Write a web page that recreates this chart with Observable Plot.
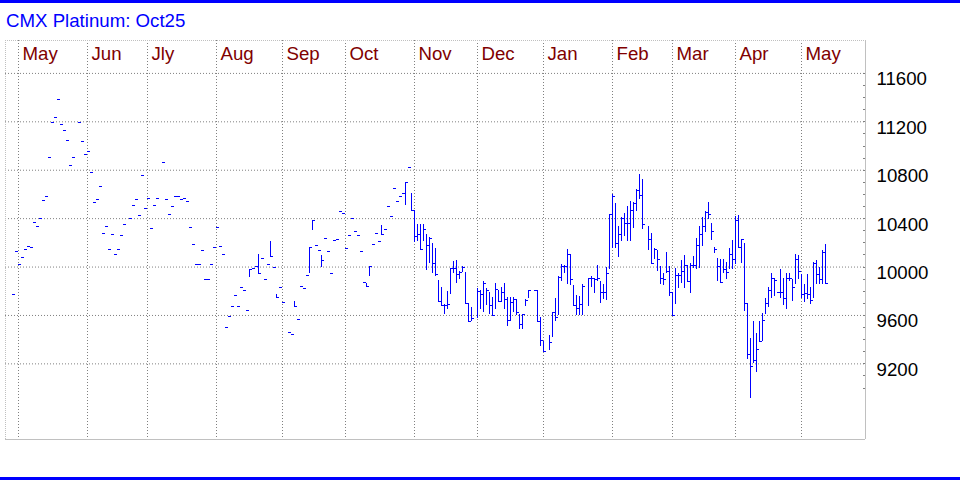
<!DOCTYPE html>
<html><head><meta charset="utf-8">
<script src="https://cdn.jsdelivr.net/npm/d3@7"></script>
<script src="https://cdn.jsdelivr.net/npm/@observablehq/plot@0.6"></script>
<style>
body{margin:0;background:#fff;}
#wrap{position:relative;width:960px;height:480px;overflow:hidden;background:#fff;font-family:"Liberation Sans",Arial,sans-serif;}
.bar{position:absolute;left:0;width:960px;height:3px;background:#0000ff;}
#title{position:absolute;left:6px;top:11px;font-size:18.67px;line-height:19px;color:#0000ff;white-space:nowrap;}
#chart{position:absolute;left:0;top:33px;}
</style></head><body>
<div id="wrap">
  <div class="bar" style="top:0"></div>
  <div id="title">CMX Platinum: Oct25</div>
  <div id="chart"></div>
  <div class="bar" style="top:477px"></div>
</div>
<script>
const N = null;
// month labels and the trading-day index of each month's first session
const months = ["May","Jun","Jly","Aug","Sep","Oct","Nov","Dec","Jan","Feb","Mar","Apr","May"];
const monthStart = [2,25,45,68,90,111,134,155,177,200,220,241,263];
// price axis labels
const yTicks = [9200,9600,10000,10400,10800,11200,11600];
const yMinor = [9000,9100,9200,9300,9400,9500,9600,9700,9800,9900,10000,10100,10200,10300,10400,10500,10600,10700,10800,10900,11000,11100,11200,11300,11400,11500,11600];

// daily closes (null = no trade), index = trading day
const close = [
 9777,10132,10025,10082,10148,10173,10165,10371,10338,10404,
 10553,10586,10907,11196,11237,11385,11179,11130,11047,10841,
 10907,N,11196,11039,10932,10957,10783,10536,10561,10668,
 10280,10338,10148,10272,10107,10148,10264,10355,N,10404,
 10511,10561,10429,10759,10487,10569,10322,10511,10569,N,
 10866,10561,10437,10503,10586,10586,10561,10569,10544,10330,
 10190,10025,10025,10140,9893,9893,10025,10165,10330,10173,
 10107,9497,9588,9678,9769,9670,9835,9810,9637,9978,
 9984,10008,9945,10074,9901,10025,10087,10000,9750,9835,
 9703,N,9456,9442,9673,9563,9843,9821,9934,10159,
 10382,10181,10140,10058,10239,10126,9950,10217,10231,10459,
 10440,10151,10258,10404,10297,10264,10126,9876,9840,10008,
 10190,10280,10214,10272,10313,10497,10421,10651,10544,10586,
 10605,10701,10825,10464,10252,10272,10148,10313,10176,10234,
 10027,9937,9717,9684,9684,9689,9992,9992,9937,9958,
 10000,9698,9546,9574,N,9799,9771,9862,9804,9681,
 9601,9812,9714,9793,9730,9560,9708,9730,9626,9529,
 9609,9722,9808,N,N,9546,9392,9304,N,9376,
 9623,9587,9917,10005,10005,10101,9895,9684,9661,9689,
 9840,N,9904,9909,9895,9904,9793,9793,9950,10432,
 10583,10198,10266,10404,10363,10357,10464,10522,10632,10588,
 10354,N,10225,10033,10143,10060,9909,9895,9964,9791,
 9599,9928,9928,9964,10011,9881,10011,10011,10176,10266,
 10335,10453,10431,10294,10148,10005,9876,9983,9956,10107,
 10066,10382,10165,10231,9695,9277,9175,9227,9318,9387,
 9557,9695,9807,9909,9887,N,9793,9744,9909,9909,
 9835,10060,9964,9777,9785,9772,9722,10033,9937,9895,
 10121,9860
];
// daily highs (null where the day was a single print)
const high = [
 N,N,N,N,N,N,N,N,N,N, N,N,N,N,N,N,N,N,N,N,
 N,N,N,N,N,N,N,N,N,N, N,N,N,N,N,N,N,N,N,N,
 N,N,N,N,N,N,N,N,N,N, N,N,N,N,N,N,N,N,N,N,
 N,N,N,N,N,N,N,N,N,N, N,N,N,N,N,N,N,N,N,9978,
 N,N,10101,N,N,N,10209,N,9770,N,
 N,N,N,N,9716,N,N,N,N,10159,
 10382,N,N,10093,N,N,N,N,N,N,
 N,N,N,N,N,N,N,N,9860,10008,
 N,N,N,10341,N,N,N,N,N,N,
 N,10701,N,10610,10464,10349,10355,10355,10267,10245,
 10198,10157,9890,9830,9689,9794,9992,10049,10052,9964,
 10005,9958,9698,9665,N,9826,9807,9879,9826,9790,
 9752,9867,9807,9829,9867,9752,9752,9752,9730,9607,
 9609,9730,9808,N,N,9808,9580,9387,N,9436,
 9623,9738,9923,10019,10011,10143,10107,9846,9763,9758,
 9854,N,9909,9923,9909,10011,9879,9854,10000,10437,
 10602,10528,10335,10409,10445,10500,10538,10533,10637,10761,
 10720,N,10335,10275,10157,10137,10005,9950,10121,10005,
 9791,9986,9950,10052,10093,10011,10033,10088,10239,10335,
 10412,10459,10536,10363,10160,10074,10066,10066,10038,10157,
 10217,10418,10423,10231,10192,9695,9406,9552,9455,9546,
 9620,9736,9827,9945,9909,N,9978,9909,9945,9945,
 9895,10107,10093,9937,9854,9937,9827,10038,10052,9997,
 10134,10184
];
const low = [
 N,N,N,N,N,N,N,N,N,N, N,N,N,N,N,N,N,N,N,N,
 N,N,N,N,N,N,N,N,N,N, N,N,N,N,N,N,N,N,N,N,
 N,N,N,N,N,N,N,N,N,N, N,N,N,N,N,N,N,N,N,N,
 N,N,N,N,N,N,N,N,N,N, N,N,N,N,N,N,N,N,N,9914,
 N,N,9945,N,N,N,10087,N,9750,N,
 N,N,N,N,9673,N,N,N,N,9945,
 10302,N,N,10000,N,N,N,N,N,N,
 N,N,N,N,N,N,N,N,9840,9922,
 N,N,N,10272,N,N,N,N,N,N,
 N,10508,N,10464,10203,10212,10148,10212,9975,10027,
 9950,9923,9703,9676,9612,9648,9777,9950,9862,9901,
 9958,9698,9546,9546,N,9573,9648,9626,9681,9606,
 9599,9653,9708,9708,9648,9510,9552,9626,9599,9488,
 9488,9675,9744,N,N,9546,9340,9291,N,9312,
 9414,9546,9599,9881,9950,9854,9849,9681,9598,9601,
 9601,N,9670,9827,9785,9881,9697,9730,9725,9978,
 10157,10157,10080,10211,10253,10211,10211,10321,10459,10561,
 10313,N,10137,10027,10060,9964,9854,9849,9950,9758,
 9593,9689,9826,9868,9826,9881,9785,9992,9983,9992,
 10170,10286,10390,10220,10110,9881,9876,9950,9901,9978,
 9978,10025,10157,10027,9634,9236,8911,9202,9125,9387,
 9387,9607,9662,9736,9758,N,9740,9681,9648,9881,
 9717,9854,9901,9736,9703,9730,9689,9744,9854,9854,
 9854,9860
];
// days where an opening tick is visible
const openDays = [134,175,197,256];
const openPrices = [10464,9808,9793,9793];

const days = close.map((c, i) => ({i, c, h: high[i], l: low[i]})).filter(d => d.c != null);
const ranged = days.filter(d => d.h != null);
const opens = openDays.map((i, k) => ({i, o: openPrices[k]}));
const monthRows = months.map((m, k) => ({m, i: monthStart[k]}));

const xDomain = [-7/3, 853/3];
const yDomain = [8575, 11872];
const grid = "#808080";
const edge = "#c0c0c0";
const blue = "#0000ff";
const fs = 18.67;

const chart = Plot.plot({
  width: 960, height: 415,
  marginTop: 7, marginBottom: 9, marginLeft: 5, marginRight: 95,
  x: {domain: xDomain, axis: null},
  y: {domain: yDomain, axis: null},
  style: {fontFamily: "'Liberation Sans', Arial, sans-serif", fontSize: fs + "px", background: "#fff", overflow: "visible"},
  marks: [
    Plot.ruleY(yTicks, {stroke: grid, strokeDasharray: "1,2"}),
    Plot.ruleX(monthRows, {x: "i", stroke: grid, strokeDasharray: "1,2"}),
    Plot.ruleY([yDomain[1]], {stroke: edge, strokeDasharray: "1,1"}),
    Plot.ruleX([xDomain[0]], {stroke: edge, strokeDasharray: "1,1"}),
    Plot.ruleY([yDomain[0]], {stroke: edge}),
    Plot.ruleX([xDomain[1]], {stroke: edge}),
    Plot.ruleY(yMinor, {x1: xDomain[1] - 0.8, x2: xDomain[1], stroke: grid, shapeRendering: "crispEdges"}),
    Plot.ruleX(ranged, {x: "i", y1: "l", y2: "h", stroke: blue, shapeRendering: "crispEdges"}),
    Plot.ruleY(days, {y: "c", x1: "i", x2: d => d.i + 1, stroke: blue, shapeRendering: "crispEdges"}),
    Plot.ruleY(opens, {y: "o", x1: d => d.i - 1, x2: "i", stroke: blue, shapeRendering: "crispEdges"}),
    Plot.text(monthRows, {x: "i", frameAnchor: "top", text: "m", textAnchor: "start", lineAnchor: "middle", dx: 4, dy: 14, fill: "#800000", fontSize: fs}),
    Plot.axisY(yTicks, {anchor: "right", tickSize: 0, tickPadding: 11, dy: 6, fill: "#000", fontSize: fs, tickFormat: d => String(d), label: null})
  ]
});
document.getElementById("chart").appendChild(chart);
</script>
</body></html>
